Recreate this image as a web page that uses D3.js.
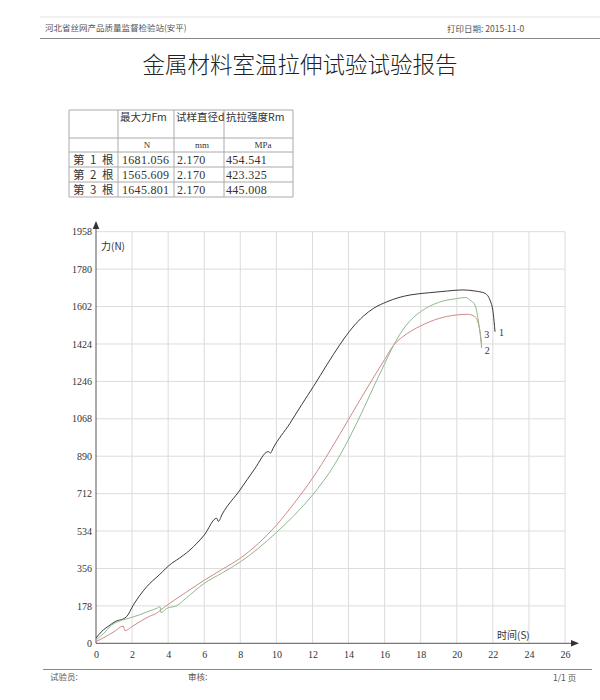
<!DOCTYPE html>
<html>
<head>
    <meta charset="utf-8">
    <title></title>
    <script src="https://d3js.org/d3.v7.min.js"></script>
    <style>
        body { margin: 0; background: #fff; }
        svg { display: block; }
        .cn { font-family: "Noto Sans CJK SC", sans-serif; }
        .num { font-family: "Liberation Serif", "DejaVu Serif", serif; }
    </style>
</head>
<body>

    <svg id="page" width="600" height="700"></svg>

    <script>

    // table data
    var colHeads = ["最大力Fm", "试样直径d", "抗拉强度Rm"];
    var colUnits = ["N", "mm", "MPa"];
    var rowNames = ["第 1 根", "第 2 根", "第 3 根"];
    var maxForce = ["1681.056", "1565.609", "1645.801"];
    var diameter = ["2.170", "2.170", "2.170"];
    var strength = ["454.541", "423.325", "445.008"];

    // axis ticks
    var xTicks = [0, 2, 4, 6, 8, 10, 12, 14, 16, 18, 20, 22, 24, 26];
    var yTicks = [0, 178, 356, 534, 712, 890, 1068, 1246, 1424, 1602, 1780, 1958];

    // curve 1 (time s, force N)
    var t1 = [0, 0.3, 0.78, 1.1, 1.51, 1.7, 2.07, 2.81, 3.5, 4.19, 4.47, 5.21, 6.0, 6.69, 6.78, 7.0, 7.98, 8.8, 9.55, 9.68, 9.8,
              10.75, 11.4, 12.05, 12.8, 13.53, 14.2, 14.82, 15.4, 16.11, 16.8, 17.41, 18.5, 19.5, 20.3, 21.0, 21.56, 21.84, 22.02, 22.12];
    var f1 = [25, 55, 87, 105, 116, 127, 182, 269, 325, 380, 396, 444, 515, 595, 580, 615, 729, 830, 912, 905, 925,
              1046, 1135, 1221, 1325, 1422, 1500, 1556, 1594, 1624, 1645, 1657, 1668, 1676, 1681, 1676, 1665, 1633, 1570, 1482];

    // curve 2
    var t2 = [0, 0.5, 1.0, 1.51, 1.61, 2.0, 2.44, 3.0, 3.36, 3.6, 4.0, 5.0, 6.0, 7.0, 8.0, 9.0, 10.0, 11.0, 12.0, 13.0, 14.0,
              15.0, 16.0, 16.5, 17.0, 17.5, 18.0, 19.0, 20.0, 20.6, 21.0, 21.19, 21.32, 21.38];
    var f2 = [8, 30, 55, 82, 60, 80, 103, 130, 143, 160, 185, 243, 300, 352, 405, 475, 562, 668, 785, 920, 1065,
              1210, 1350, 1418, 1458, 1487, 1510, 1545, 1562, 1565, 1554, 1522, 1460, 1405];

    // curve 3
    var t3 = [0, 0.4, 0.87, 1.2, 1.61, 2.4, 3.0, 3.36, 3.55, 3.6, 3.92, 4.47, 5.0, 6.0, 7.0, 8.0, 9.0, 10.0, 11.0, 12.0,
              13.15, 14.45, 15.56, 16.0, 16.5, 17.0, 17.5, 18.0, 19.0, 20.0, 20.5, 20.73, 21.01, 21.19, 21.32, 21.36];
    var f3 = [16, 45, 87, 103, 114, 135, 155, 166, 174, 146, 166, 179, 215, 285, 335, 387, 452, 527, 610, 705,
              840, 1047, 1251, 1330, 1418, 1490, 1542, 1578, 1622, 1640, 1645, 1633, 1609, 1538, 1459, 1430];

    var curves = [
        { id: "1", t: t1, f: f1, color: "#3a3a3a" },
        { id: "2", t: t2, f: f2, color: "#cf8a8a" },
        { id: "3", t: t3, f: f3, color: "#8fb88f" }
    ];

    var svg = d3.select("#page");

    // header
    svg.append("line").attr("x1", 40).attr("x2", 600).attr("y1", 17).attr("y2", 17)
        .attr("stroke", "#e4e4e4");
    svg.append("text").attr("class", "cn").attr("x", 45).attr("y", 31)
        .attr("font-size", 8.5).attr("fill", "#555").text("河北省丝网产品质量监督检验站(安平)");
    svg.append("text").attr("class", "cn").attr("x", 447).attr("y", 32)
        .attr("font-size", 8.5).attr("fill", "#555").text("打印日期: 2015-11-0");
    svg.append("line").attr("x1", 40).attr("x2", 600).attr("y1", 38.5).attr("y2", 38.5)
        .attr("stroke", "#888");

    svg.append("text").attr("class", "cn").attr("x", 300).attr("y", 73)
        .attr("text-anchor", "middle").attr("font-size", 22.5).attr("font-weight", 300)
        .attr("fill", "#222").text("金属材料室温拉伸试验试验报告");

    // table
    var colX = [69, 118, 174, 224, 293];
    var rowY = [110, 138, 152, 167, 182, 197];
    var tb = svg.append("g");
    colX.forEach(function (x) {
        tb.append("line").attr("x1", x).attr("x2", x).attr("y1", rowY[0]).attr("y2", rowY[5])
            .attr("stroke", "#aaa");
    });
    rowY.forEach(function (y) {
        tb.append("line").attr("x1", colX[0]).attr("x2", colX[4]).attr("y1", y).attr("y2", y)
            .attr("stroke", "#aaa");
    });
    colHeads.forEach(function (h, i) {
        tb.append("text").attr("class", "cn").attr("x", colX[i + 1] + 2).attr("y", 121)
            .attr("font-size", 10.5).attr("fill", "#333").text(h);
    });
    var unitX = [147, 202, 263];
    colUnits.forEach(function (u, i) {
        tb.append("text").attr("class", "num").attr("x", unitX[i]).attr("y", 148)
            .attr("text-anchor", "middle").attr("font-size", 9).attr("fill", "#333").text(u);
    });
    rowNames.forEach(function (r, i) {
        var y = rowY[i + 2] + 12;
        tb.append("text").attr("class", "cn").attr("x", 73).attr("y", y)
            .attr("font-size", 11.5).attr("letter-spacing", 1.5).attr("fill", "#333").text(r);
        tb.append("text").attr("class", "num").attr("x", 122).attr("y", y)
            .attr("font-size", 12).attr("letter-spacing", 0.3).attr("fill", "#333").text(maxForce[i]);
        tb.append("text").attr("class", "num").attr("x", 177).attr("y", y)
            .attr("font-size", 12).attr("letter-spacing", 0.3).attr("fill", "#333").text(diameter[i]);
        tb.append("text").attr("class", "num").attr("x", 226).attr("y", y)
            .attr("font-size", 12).attr("letter-spacing", 0.3).attr("fill", "#333").text(strength[i]);
    });

    // chart
    var xSc = d3.scaleLinear().domain([0, 26]).range([96, 565]);
    var ySc = d3.scaleLinear().domain([0, 1958]).range([643.3, 231.7]);

    var grid = svg.append("g");
    grid.selectAll("line.v").data(xTicks.slice(1)).enter().append("line")
        .attr("x1", d => xSc(d)).attr("x2", d => xSc(d))
        .attr("y1", ySc(0)).attr("y2", ySc(1958))
        .attr("stroke", "#dcdcdc");
    grid.selectAll("line.h").data(yTicks.slice(1)).enter().append("line")
        .attr("x1", xSc(0)).attr("x2", xSc(26))
        .attr("y1", d => ySc(d)).attr("y2", d => ySc(d))
        .attr("stroke", "#dcdcdc");

    var xAxis = d3.axisBottom(xSc).tickValues(xTicks).tickFormat(d3.format("d")).tickSize(0).tickPadding(8);
    var yAxis = d3.axisLeft(ySc).tickValues(yTicks).tickFormat(d3.format("d")).tickSize(0).tickPadding(4);
    var gx = svg.append("g").attr("transform", "translate(0," + ySc(0) + ")").call(xAxis);
    var gy = svg.append("g").attr("transform", "translate(" + xSc(0) + ",0)").call(yAxis);
    [gx, gy].forEach(function (g) {
        g.select(".domain").remove();
        g.selectAll("text").attr("class", "num").attr("font-size", 10).attr("fill", "#333");
    });

    svg.append("line").attr("x1", xSc(0)).attr("x2", 572).attr("y1", ySc(0)).attr("y2", ySc(0))
        .attr("stroke", "#555");
    svg.append("line").attr("x1", xSc(0)).attr("x2", xSc(0)).attr("y1", ySc(0)).attr("y2", 225)
        .attr("stroke", "#555");
    svg.append("path").attr("d", "M571,640 L579," + ySc(0) + " L571,646.6 Z").attr("fill", "#333");
    svg.append("path").attr("d", "M92.7,229 L96,221 L99.3,229 Z").attr("fill", "#333");

    svg.append("text").attr("class", "cn").attr("x", 101).attr("y", 250)
        .attr("font-size", 10).attr("fill", "#333").text("力(N)");
    svg.append("text").attr("class", "cn").attr("x", 497).attr("y", 639)
        .attr("font-size", 10).attr("fill", "#333").text("时间(S)");

    var lnMkr = d3.line().x(d => xSc(d[0])).y(d => ySc(d[1])).curve(d3.curveMonotoneX);
    var cg = svg.append("g");
    curves.forEach(function (c) {
        var pts = c.t.map((t, i) => [t, c.f[i]]);
        cg.append("path").attr("d", lnMkr(pts))
            .attr("fill", "none").attr("stroke", c.color).attr("stroke-width", 1);
    });

    // curve end labels
    var labelOff = { "1": [4, 4], "2": [3, 6], "3": [3, -5] };
    curves.forEach(function (c) {
        var n = c.t.length - 1;
        svg.append("text").attr("class", "num")
            .attr("x", xSc(c.t[n]) + labelOff[c.id][0]).attr("y", ySc(c.f[n]) + labelOff[c.id][1])
            .attr("font-size", 10).attr("fill", "#333").text(c.id);
    });

    // footer
    svg.append("line").attr("x1", 43).attr("x2", 592).attr("y1", 669.5).attr("y2", 669.5)
        .attr("stroke", "#888");
    svg.append("text").attr("class", "cn").attr("x", 50).attr("y", 680)
        .attr("font-size", 8.5).attr("fill", "#555").text("试验员:");
    svg.append("text").attr("class", "cn").attr("x", 188).attr("y", 680)
        .attr("font-size", 8.5).attr("fill", "#555").text("审核:");
    svg.append("text").attr("class", "cn").attr("x", 553).attr("y", 681)
        .attr("font-size", 8.5).attr("fill", "#555").text("1/1 页");

    </script>

</body></html>
